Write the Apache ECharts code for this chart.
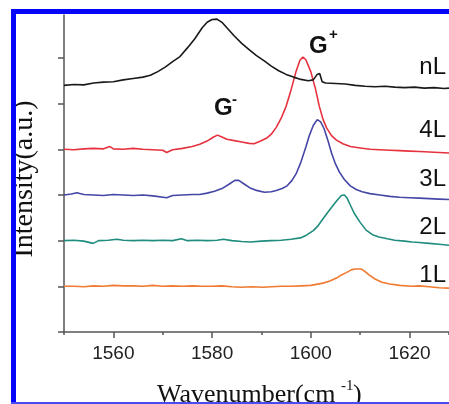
<!DOCTYPE html>
<html>
<head>
<meta charset="utf-8">
<script src="https://cdn.jsdelivr.net/npm/echarts@6/dist/echarts.min.js"></script>
<style>
  html, body { margin: 0; padding: 0; background: #fff; }
  #chart { width: 449px; height: 404px; }
</style>
</head>
<body>
<div id="chart"></div>
<script>
// 各层数的拉曼谱 [波数, 强度(带偏移)]
const nL = [[1550,5.40],[1552,5.42],[1554,5.41],[1556,5.45],[1558,5.47],[1560,5.48],[1562,5.52],[1564,5.55],[1566,5.58],[1567.5,5.62],[1569,5.70],[1570.5,5.80],[1572,5.92],[1573.5,6.03],[1575,6.22],[1576.5,6.42],[1578,6.66],[1579,6.78],[1580,6.84],[1581,6.85],[1582,6.78],[1583,6.66],[1584.5,6.48],[1586,6.32],[1587.5,6.18],[1589,6.05],[1590.5,5.94],[1592,5.82],[1593.5,5.72],[1595,5.64],[1596.5,5.58],[1598,5.53],[1599.5,5.50],[1600.5,5.52],[1601.3,5.64],[1601.8,5.66],[1602.3,5.48],[1603,5.45],[1605,5.44],[1607,5.43],[1609,5.40],[1611,5.38],[1613,5.37],[1615,5.38],[1617,5.36],[1619,5.35],[1621,5.36],[1623,5.34],[1625,5.35],[1627,5.33],[1628,5.34]];
const L4 = [[1550,4.00],[1552,3.99],[1554,4.01],[1556,4.02],[1558,4.01],[1559.3,4.06],[1560,4.01],[1562,4.00],[1564,4.02],[1566,4.00],[1568,3.99],[1570,3.98],[1570.8,3.93],[1572,3.99],[1574,4.02],[1576,4.06],[1577.5,4.11],[1579,4.18],[1580.3,4.27],[1581.1,4.31],[1582,4.27],[1583,4.22],[1584.5,4.19],[1586,4.16],[1587.5,4.13],[1588.5,4.12],[1589.6,4.17],[1591,4.24],[1592,4.33],[1593,4.48],[1594,4.68],[1595,4.94],[1596,5.30],[1597,5.70],[1597.8,5.95],[1598.4,6.02],[1599,5.96],[1600,5.70],[1601,5.30],[1601.7,4.95],[1602.5,4.65],[1603.2,4.47],[1604.2,4.30],[1605.2,4.20],[1606.5,4.12],[1608,4.06],[1610,4.03],[1612,4.00],[1614,3.99],[1616,3.98],[1618,3.97],[1620,3.96],[1622,3.95],[1624,3.94],[1626,3.93],[1628,3.92]];
const L3 = [[1550,3.00],[1551.5,3.02],[1552.6,3.05],[1554,3.01],[1556,3.00],[1558,2.99],[1560,3.01],[1562,3.00],[1564,2.99],[1566,3.00],[1568,2.98],[1570.8,2.94],[1572,2.99],[1574,3.00],[1576,3.01],[1577.5,3.01],[1579,3.04],[1580.5,3.08],[1582,3.14],[1583.5,3.24],[1584.6,3.32],[1585.4,3.32],[1586.5,3.24],[1587.6,3.16],[1589,3.10],[1590.6,3.06],[1592,3.07],[1593,3.10],[1594.2,3.14],[1595.2,3.20],[1596.2,3.32],[1597.1,3.48],[1598,3.72],[1599,4.05],[1599.7,4.30],[1600.5,4.52],[1601.3,4.65],[1602,4.60],[1602.7,4.45],[1603.5,4.18],[1604.2,3.92],[1605,3.68],[1605.8,3.50],[1606.8,3.34],[1608,3.20],[1609.2,3.12],[1610.4,3.07],[1612,3.03],[1614,3.00],[1616,2.97],[1618,2.95],[1620,2.94],[1622,2.93],[1624,2.92],[1626,2.91],[1628,2.90]];
const L2 = [[1550,2.00],[1552,2.01],[1554,1.99],[1555.9,1.94],[1557,2.00],[1559,2.01],[1560.7,2.03],[1562,2.01],[1564,2.00],[1566,2.01],[1568,2.00],[1570,2.01],[1572,2.00],[1573.8,2.04],[1575,2.00],[1577,2.01],[1579,2.00],[1581,2.01],[1582.3,2.03],[1584,2.00],[1586,1.98],[1587.8,1.97],[1590,1.99],[1592,2.00],[1594,2.01],[1596,2.03],[1597.9,2.06],[1599.1,2.12],[1600.5,2.22],[1601.5,2.33],[1602.3,2.45],[1603.3,2.60],[1604.3,2.74],[1605.3,2.88],[1606.2,2.99],[1606.8,3.00],[1607.3,2.94],[1608,2.78],[1608.8,2.60],[1610,2.40],[1611.2,2.23],[1612.5,2.13],[1613.8,2.08],[1615.5,2.04],[1617,2.01],[1619,1.99],[1620.5,1.97],[1622,1.96],[1624,1.94],[1626,1.92],[1628,1.90]];
const L1 = [[1550,1.00],[1552,1.00],[1554,0.99],[1556,1.01],[1558,1.00],[1560,1.02],[1562,1.01],[1564,1.01],[1566,1.00],[1568,1.02],[1570,1.00],[1572,1.01],[1574,1.00],[1576,1.01],[1578,1.00],[1580,1.00],[1582,1.01],[1584,0.99],[1586,0.98],[1588,0.99],[1590.4,0.98],[1592,0.99],[1594,1.00],[1596,1.00],[1598,1.01],[1600,1.02],[1602.5,1.07],[1604,1.12],[1605.2,1.18],[1606.2,1.25],[1607.2,1.30],[1608.2,1.36],[1609,1.38],[1610.2,1.38],[1611,1.32],[1611.8,1.25],[1613,1.16],[1614.4,1.09],[1616,1.05],[1618,1.02],[1620.5,1.00],[1622,1.01],[1624,0.99],[1626,0.97],[1628,0.96]];

const seriesNames = ['nL', '4L', '3L', '2L', '1L'];
const seriesData = [nL, L4, L3, L2, L1];
const seriesColors = ['#1a1a1a', '#e6323e', '#4646a6', '#1f8c7e', '#f07a30'];
const xTicks = [1560, 1580, 1600, 1620];
const yTicks = [0, 1, 2, 3, 4, 5, 6];

const myChart = echarts.init(document.getElementById('chart'));

// 右侧层数标签
const labelY = [67, 130, 179, 227, 275];
const graphics = seriesNames.map(function (name, i) {
  return {
    type: 'text', x: 446, y: labelY[i], z: 50,
    style: { text: name, fill: '#111', font: '24px "Liberation Sans", Arial, sans-serif',
      textAlign: 'right', textVerticalAlign: 'middle' }
  };
});
const serif = '"Liberation Serif", "Times New Roman", serif';
// G+ / G- 峰标注
graphics.push(
  { type: 'text', x: 309, y: 46, z: 50, style: { text: 'G', fill: '#111', font: 'bold 24px "Liberation Sans", Arial', textAlign: 'left', textVerticalAlign: 'middle' } },
  { type: 'text', x: 329, y: 35, z: 50, style: { text: '+', fill: '#111', font: 'bold 15px "Liberation Sans", Arial', textAlign: 'left', textVerticalAlign: 'middle' } },
  { type: 'text', x: 214, y: 108, z: 50, style: { text: 'G', fill: '#111', font: 'bold 24px "Liberation Sans", Arial', textAlign: 'left', textVerticalAlign: 'middle' } },
  { type: 'text', x: 232, y: 100, z: 50, style: { text: '-', fill: '#111', font: 'bold 15px "Liberation Sans", Arial', textAlign: 'left', textVerticalAlign: 'middle' } },
  // 坐标轴标题
  { type: 'text', x: 25, y: 179, rotation: Math.PI / 2, z: 40,
    style: { text: 'Intensity(a.u.)', fill: '#111', font: '28px ' + serif,
      textAlign: 'center', textVerticalAlign: 'middle' } },
  { type: 'text', x: 157, y: 395, z: 40,
    style: { text: 'Wavenumber(cm', fill: '#111', font: '26px ' + serif, textAlign: 'left', textVerticalAlign: 'middle' } },
  { type: 'text', x: 341, y: 386, z: 40,
    style: { text: '-1', fill: '#111', font: '15px ' + serif, textAlign: 'left', textVerticalAlign: 'middle' } },
  { type: 'text', x: 353, y: 395, z: 40,
    style: { text: ')', fill: '#111', font: '26px ' + serif, textAlign: 'left', textVerticalAlign: 'middle' } },
  // 蓝色边框
  { type: 'rect', z: 100, shape: { x: 0, y: 0, width: 449, height: 9 }, style: { fill: '#fff' } },
  { type: 'rect', z: 100, shape: { x: 0, y: 0, width: 11, height: 404 }, style: { fill: '#fff' } },
  { type: 'rect', z: 101, shape: { x: 11, y: 9, width: 438, height: 5 }, style: { fill: '#0505fa' } },
  { type: 'rect', z: 101, shape: { x: 11, y: 9, width: 5, height: 395 }, style: { fill: '#0505fa' } },
  { type: 'rect', z: 101, shape: { x: 11, y: 402, width: 438, height: 2 }, style: { fill: '#4a4af0' } }
);

const option = {
  backgroundColor: '#fff',
  animation: false,
  grid: { left: 64, right: 0, top: 15, bottom: 72 },
  xAxis: [{
    type: 'value', min: 1550, max: 1628, interval: 10,
    axisLine: { show: true, onZero: false, lineStyle: { color: '#555', width: 1.5 } },
    axisTick: { show: true, inside: false, length: 6, customValues: xTicks, lineStyle: { color: '#555', width: 1.5 } },
    axisLabel: { customValues: xTicks, margin: 12, color: '#222', fontSize: 19,
      fontFamily: '"Liberation Sans", Arial, sans-serif', formatter: function (v) { return String(v); } },
    splitLine: { show: false }
  }, {
    // 次刻度
    type: 'value', min: 1550, max: 1628, interval: 10, position: 'bottom',
    axisLine: { show: false },
    axisTick: { show: true, inside: false, length: 3, lineStyle: { color: '#555', width: 1.5 } },
    axisLabel: { show: false },
    splitLine: { show: false }
  }],
  yAxis: {
    type: 'value', min: 0, max: 6.94, interval: 1,
    axisLine: { show: true, lineStyle: { color: '#555', width: 1.5 } },
    axisTick: { show: true, inside: false, length: 6, customValues: yTicks, lineStyle: { color: '#555', width: 1.5 } },
    axisLabel: { show: false },
    splitLine: { show: false }
  },
  series: seriesData.map(function (d, i) {
    return {
      name: seriesNames[i], type: 'line', data: d, showSymbol: false,
      lineStyle: { color: seriesColors[i], width: 1.6 }, z: 5 - i
    };
  }),
  graphic: graphics
};
myChart.setOption(option);
</script>
</body>
</html>
